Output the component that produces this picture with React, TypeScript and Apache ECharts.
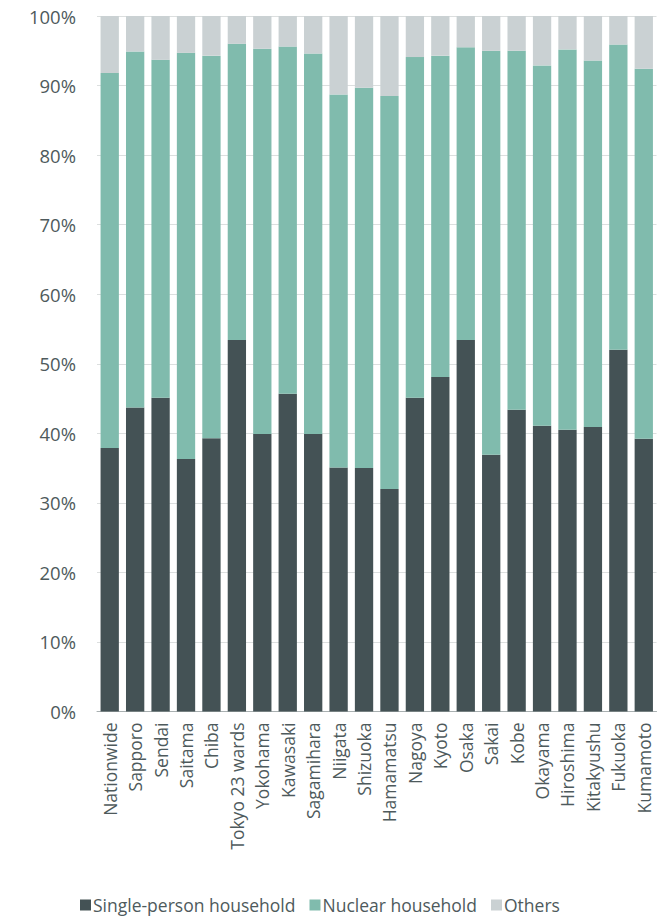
import React, { useEffect, useRef } from "react";
import * as echarts from "echarts";

const categories = [
  "Nationwide", "Sapporo", "Sendai", "Saitama", "Chiba", "Tokyo 23 wards",
  "Yokohama", "Kawasaki", "Sagamihara", "Niigata", "Shizuoka", "Hamamatsu",
  "Nagoya", "Kyoto", "Osaka", "Sakai", "Kobe", "Okayama", "Hiroshima",
  "Kitakyushu", "Fukuoka", "Kumamoto",
];

const singlePerson = [
  37.9, 43.7, 45.1, 36.3, 39.3, 53.4, 39.9, 45.7, 39.9, 35.1, 35.0,
  32.0, 45.1, 48.1, 53.4, 36.9, 43.4, 41.1, 40.5, 40.9, 52.0, 39.2,
];

const nuclear = [
  53.9, 51.2, 48.6, 58.4, 55.0, 42.6, 55.4, 49.9, 54.7, 53.6, 54.7,
  56.5, 49.0, 46.2, 42.1, 58.1, 51.6, 51.8, 54.7, 52.7, 43.9, 53.2,
];

const others = [
  8.2, 5.1, 6.3, 5.3, 5.7, 4.0, 4.7, 4.4, 5.4, 11.3, 10.3,
  11.5, 5.9, 5.7, 4.5, 5.0, 5.0, 7.1, 4.8, 6.4, 4.1, 7.6,
];

const seriesNames = ["Single-person household", "Nuclear household", "Others"];
const seriesColors = ["#445255", "#80bbad", "#cad1d3"];

export default function App() {
  const ref = useRef<HTMLDivElement>(null);
  useEffect(() => {
    if (!ref.current) return;
    const chart = echarts.init(ref.current, undefined, { renderer: "svg" });
    const textColor = "#4e5a5c";
    const font = "Open Sans";
    const data = [singlePerson, nuclear, others];
    chart.setOption({
      animation: false,
      grid: { left: 97, right: 12.5, top: 16, bottom: 204.5, containLabel: false },
      legend: {
        left: 75,
        top: 891,
        itemWidth: 11,
        itemHeight: 11,
        itemGap: 14,
        icon: "rect",
        textStyle: { color: textColor, fontSize: 17.5, fontFamily: font, padding: [0, 0, 0, -3] },
        data: seriesNames,
      },
      xAxis: {
        type: "category",
        data: categories,
        axisLine: { show: true, lineStyle: { color: "#a9b0b1", width: 1 } },
        axisTick: { show: false },
        axisLabel: {
          rotate: 90,
          interval: 0,
          margin: 11,
          color: textColor,
          fontSize: 17.5,
          fontFamily: font,
        },
      },
      yAxis: {
        type: "value",
        min: 0,
        max: 100,
        interval: 10,
        axisLine: { show: false },
        axisTick: { show: false },
        axisLabel: {
          formatter: "{value}%",
          margin: 21,
          color: textColor,
          fontSize: 18.5,
          fontFamily: font,
        },
        splitLine: { lineStyle: { color: "#dcdfdf", width: 1 } },
      },
      series: seriesNames.map((name, i) => ({
        name,
        type: "bar",
        stack: "total",
        barCategoryGap: "28%",
        itemStyle: { color: seriesColors[i] },
        data: data[i],
      })),
    });
    return () => chart.dispose();
  }, []);
  return (
    <div
      ref={ref}
      style={{ position: "fixed", left: 0, top: 0, width: 669, height: 916, background: "#fff" }}
    />
  );
}
